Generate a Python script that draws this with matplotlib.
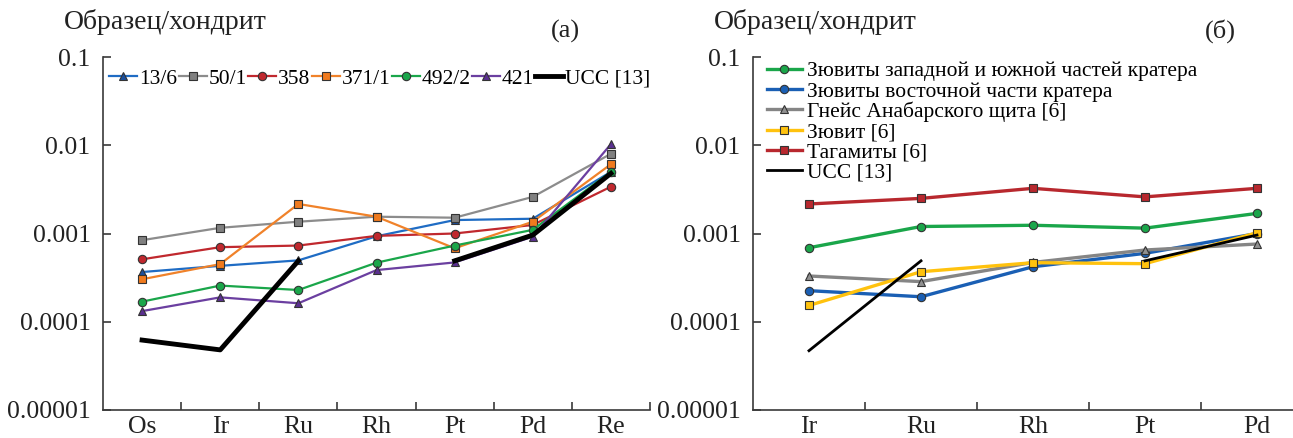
import numpy as np
import matplotlib
matplotlib.use("Agg")
import matplotlib.pyplot as plt

plt.rcParams["font.family"] = ["Liberation Serif", "DejaVu Serif"]

# --- panel (a) ---
elems_a = ["Os", "Ir", "Ru", "Rh", "Pt", "Pd", "Re"]
s_13_6 = [3.66e-4, 4.3e-4, 4.96e-4, 9.3e-4, 1.42e-3, 1.47e-3, 5.0e-3]
s_50_1 = [8.4e-4, 1.16e-3, 1.36e-3, 1.55e-3, 1.51e-3, 2.6e-3, 8.0e-3]
s_358 = [5.1e-4, 7.0e-4, 7.3e-4, 9.4e-4, 1.0e-3, 1.25e-3, 3.39e-3]
s_371_1 = [3.03e-4, 4.5e-4, 2.16e-3, 1.55e-3, 6.8e-4, 1.36e-3, 6.1e-3]
s_492_2 = [1.69e-4, 2.57e-4, 2.29e-4, 4.67e-4, 7.3e-4, 1.1e-3, 5.0e-3]
s_421 = [1.32e-4, 1.89e-4, 1.62e-4, 3.85e-4, 4.7e-4, 9.2e-4, 1.03e-2]
ucc_a = [6.2e-5, 4.8e-5, 4.9e-4, np.nan, 4.9e-4, 9.6e-4, 4.8e-3]

# --- panel (б) ---
elems_b = ["Ir", "Ru", "Rh", "Pt", "Pd"]
suev_west = [6.9e-4, 1.2e-3, 1.24e-3, 1.15e-3, 1.69e-3]
suev_east = [2.25e-4, 1.92e-4, 4.2e-4, 5.96e-4, 1.0e-3]
gneiss = [3.3e-4, 2.85e-4, 4.7e-4, 6.5e-4, 7.6e-4]
suevite = [1.53e-4, 3.69e-4, 4.67e-4, 4.55e-4, 1.02e-3]
tagamite = [2.16e-3, 2.5e-3, 3.25e-3, 2.6e-3, 3.25e-3]
ucc_b = [4.7e-5, 4.9e-4, np.nan, 4.9e-4, 9.6e-4]

yticks = [1e-5, 1e-4, 1e-3, 1e-2, 1e-1]
ytick_labels = ["0.00001", "0.0001", "0.001", "0.01", "0.1"]

AX = "#3a3a3a"
TXT = "#222222"


def style(ax, labels):
    n = len(labels)
    ax.set_yscale("log")
    ax.set_ylim(1e-5, 1e-1)
    ax.set_xlim(-0.5, n - 0.5)
    ax.set_yticks(yticks)
    ax.set_yticklabels(ytick_labels)
    ax.yaxis.set_minor_locator(matplotlib.ticker.NullLocator())
    ax.set_xticks(np.arange(n))
    ax.set_xticklabels(labels)
    ax.set_xticks(np.arange(n) + 0.5, minor=True)
    ax.tick_params(axis="x", which="major", length=0, labelsize=18.5, pad=4, colors=TXT)
    ax.tick_params(axis="x", which="minor", length=6, direction="in", width=1.2, color=AX)
    ax.tick_params(axis="y", which="major", length=6, direction="in", width=1.2,
                   labelsize=18.5, pad=9, color=AX, labelcolor=TXT)
    for s in ("top", "right"):
        ax.spines[s].set_visible(False)
    for s in ("left", "bottom"):
        ax.spines[s].set_color(AX)
        ax.spines[s].set_linewidth(1.2)


fig = plt.figure(figsize=(12.93, 4.38), dpi=100)
ax1 = fig.add_axes([103 / 1293, 28 / 438, 547 / 1293, 353 / 438])
ax2 = fig.add_axes([753 / 1293, 28 / 438, 560 / 1293, 353 / 438])

xa = np.arange(len(elems_a))
mk = dict(markersize=6, markeredgecolor="#333", markeredgewidth=0.8)
ax1.plot(xa, s_13_6, "-^", color="#1f6cc4", markerfacecolor="#1b4f9c", lw=1.6, label="13/6", **mk)
ax1.plot(xa, s_50_1, "-s", color="#8c8c8c", markerfacecolor="#808080", lw=1.6, label="50/1", **mk)
ax1.plot(xa, s_358, "-o", color="#c0282e", markerfacecolor="#c0282e", lw=1.6, label="358", **mk)
ax1.plot(xa, s_371_1, "-s", color="#f0822a", markerfacecolor="#f07a1e", lw=1.6, label="371/1", **mk)
ax1.plot(xa, s_492_2, "-o", color="#1aa64a", markerfacecolor="#1aa64a", lw=1.6, label="492/2", **mk)
ax1.plot(xa, s_421, "-^", color="#6b3fa0", markerfacecolor="#5a2f90", lw=1.6, label="421", **mk)
ax1.plot(xa, ucc_a, "-", color="black", lw=3.5, label="UCC [13]")
style(ax1, elems_a)
ax1.legend(loc="upper left", bbox_to_anchor=(0.0, 0.985), ncol=7, frameon=False,
           fontsize=15.5, handlelength=1.3, handletextpad=0.1, columnspacing=0.05,
           borderaxespad=0.1, borderpad=0.2)

xb = np.arange(len(elems_b))
ax2.plot(xb, suev_west, "-o", color="#1aa64a", markerfacecolor="#1aa64a", lw=2.4,
         label="Зювиты западной и южной частей кратера", **mk)
ax2.plot(xb, suev_east, "-o", color="#1a5fb4", markerfacecolor="#1a5fb4", lw=2.4,
         label="Зювиты восточной части кратера", **mk)
ax2.plot(xb, gneiss, "-^", color="#858585", markerfacecolor="#909090", lw=2.4,
         label="Гнейс Анабарского щита [6]", **mk)
ax2.plot(xb, suevite, "-s", color="#ffc20e", markerfacecolor="#ffc20e", lw=2.4,
         label="Зювит [6]", **mk)
ax2.plot(xb, tagamite, "-s", color="#b8282e", markerfacecolor="#b8282e", lw=2.4,
         label="Тагамиты [6]", **mk)
ax2.plot(xb, ucc_b, "-", color="black", lw=2.0, label="UCC [13]")
style(ax2, elems_b)
ax2.legend(loc="upper left", bbox_to_anchor=(0.01, 1.012), ncol=1, frameon=False,
           fontsize=15.5, handlelength=1.6, handletextpad=0.25, labelspacing=0.0,
           borderaxespad=0.1, borderpad=0.3)

fig.text(64 / 1293, 1 - 22 / 438, "Образец/хондрит", fontsize=20, va="center", ha="left", color=TXT)
fig.text(565 / 1293, 1 - 31 / 438, "(a)", fontsize=19, va="center", ha="center", color=TXT)
fig.text(714 / 1293, 1 - 22 / 438, "Образец/хондрит", fontsize=20, va="center", ha="left", color=TXT)
fig.text(1220 / 1293, 1 - 31 / 438, "(б)", fontsize=19, va="center", ha="center", color=TXT)

fig.savefig("out.png", dpi=100, facecolor="white")
